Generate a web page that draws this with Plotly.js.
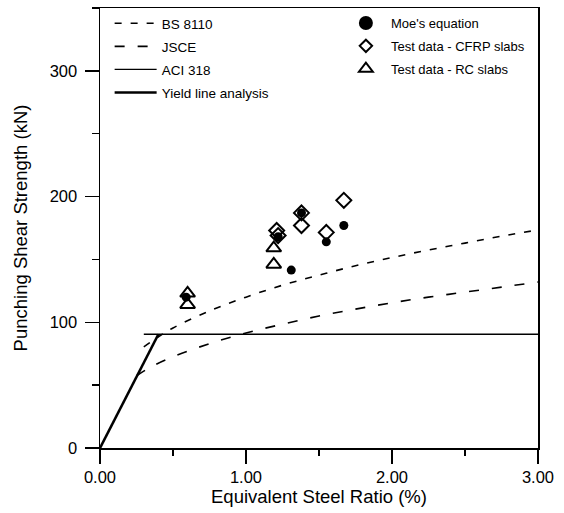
<!DOCTYPE html>
<html>
<head>
<meta charset="utf-8">
<script src="https://cdn.plot.ly/plotly-3.0.1.min.js"></script>
<style>html,body{margin:0;padding:0;background:#fff;}#chart{width:564px;height:513px;}</style>
</head>
<body>
<div id="chart"></div>
<script>
// Design code curves
const bsX   = [0.30, 0.40, 0.50, 0.75, 1.00, 1.25, 1.50, 1.75, 2.00, 2.25, 2.50, 2.75, 3.00];
const bsY   = [80.5, 88.5, 95.5, 109, 120, 129.5, 137.5, 145, 151.5, 157.5, 163, 168.5, 173.5];
const jsceX = [0.25, 0.35, 0.50, 0.75, 1.00, 1.25, 1.50, 1.75, 2.00, 2.25, 2.50, 2.75, 3.00];
const jsceY = [57.5, 64.5, 72.5, 83, 91.5, 98.5, 105, 110.5, 115.5, 120, 124, 128, 132];
const aciX  = [0.30, 3.00];
const aciY  = [90.5, 90.5];
const yieldX = [0.00, 0.40];
const yieldY = [0, 90.5];

// Point data
const moeX  = [0.59, 1.22, 1.31, 1.38, 1.55, 1.67];
const moeY  = [120, 168, 141.5, 187, 164, 177];
const cfrpX = [1.21, 1.22, 1.38, 1.38, 1.55, 1.67];
const cfrpY = [173, 169, 187, 177, 171.5, 197];
const rcX   = [0.60, 0.60, 1.19, 1.19];
const rcY   = [123, 114, 159, 146];

const font = 'Arial, "Liberation Sans", sans-serif';

const moeMarker  = {symbol: 'circle', size: 9, color: 'black'};
const cfrpMarker = {symbol: 'diamond-open', size: 11.5, color: 'black', line: {width: 2, color: 'black'}};
const rcMarker   = {symbol: 'triangle-up-open', size: 13, color: 'black', line: {width: 2, color: 'black'}};

const traces = [
  {x: bsX, y: bsY, mode: 'lines', name: 'BS 8110', legend: 'legend', legendgroup: 'a',
   line: {color: 'black', width: 1.6, dash: '7px,9px', shape: 'spline'}},
  {x: jsceX, y: jsceY, mode: 'lines', name: 'JSCE', legend: 'legend', legendgroup: 'b',
   line: {color: 'black', width: 1.6, dash: '10px,13px', shape: 'spline'}},
  {x: aciX, y: aciY, mode: 'lines', name: 'ACI 318', legend: 'legend', legendgroup: 'c',
   line: {color: 'black', width: 1.4}},
  {x: yieldX, y: yieldY, mode: 'lines', name: 'Yield line analysis', legend: 'legend', legendgroup: 'd',
   line: {color: 'black', width: 2.6}},
  {x: moeX, y: moeY, mode: 'markers', name: "Moe's equation", legendgroup: 'e', showlegend: false,
   marker: moeMarker},
  {x: cfrpX, y: cfrpY, mode: 'markers', name: 'Test data - CFRP slabs', legendgroup: 'f', showlegend: false,
   marker: cfrpMarker},
  {x: rcX, y: rcY, mode: 'markers', name: 'Test data - RC slabs', legendgroup: 'g', showlegend: false,
   marker: rcMarker},
  // legend keys for the point series (sized like the reference key)
  {x: [null], y: [null], mode: 'markers', name: "Moe's equation", legend: 'legend2', legendgroup: 'e',
   marker: {symbol: 'circle', size: 14, color: 'black'}},
  {x: [null], y: [null], mode: 'markers', name: 'Test data - CFRP slabs', legend: 'legend2', legendgroup: 'f',
   marker: {symbol: 'diamond-open', size: 9.5, color: 'black', line: {width: 2, color: 'black'}}},
  {x: [null], y: [null], mode: 'markers', name: 'Test data - RC slabs', legend: 'legend2', legendgroup: 'g',
   marker: {symbol: 'triangle-up-open', size: 12, color: 'black', line: {width: 2, color: 'black'}}}
];

const layout = {
  width: 564, height: 513,
  margin: {l: 100, r: 26, t: 8, b: 65},
  paper_bgcolor: 'white', plot_bgcolor: 'white',
  font: {family: font, color: 'black', size: 16},
  showlegend: true,
  xaxis: {
    range: [0, 3], dtick: 1, tick0: 0, tickformat: '.2f',
    showline: true, linecolor: 'black', linewidth: 1.5, mirror: true,
    ticks: 'outside', ticklen: 14, tickwidth: 1.5, tickcolor: 'black',
    showgrid: false, zeroline: false,
    minor: {dtick: 0.5, ticks: 'outside', ticklen: 6, tickwidth: 1.5, tickcolor: 'black', showgrid: false},
    tickfont: {size: 16.5, family: font},
    title: {text: 'Equivalent Steel Ratio (%)', font: {size: 18.5, family: font}, standoff: 0}
  },
  yaxis: {
    range: [0, 350], dtick: 100, tick0: 0,
    showline: true, linecolor: 'black', linewidth: 1.5, mirror: true,
    ticks: 'outside', ticklen: 14, tickwidth: 1.5, tickcolor: 'black',
    ticklabelstandoff: 4,
    showgrid: false, zeroline: false,
    minor: {dtick: 50, ticks: 'outside', ticklen: 7, tickwidth: 1.5, tickcolor: 'black', showgrid: false},
    tickfont: {size: 16.5, family: font},
    title: {text: 'Punching Shear Strength (kN)', font: {size: 18.5, family: font}, standoff: 17}
  },
  legend: {
    x: 0.022, y: 1.0, xanchor: 'left', yanchor: 'top',
    bgcolor: 'rgba(0,0,0,0)', borderwidth: 0,
    font: {size: 13.5, family: font}, itemwidth: 42, tracegroupgap: 2.5,
    traceorder: 'grouped'
  },
  legend2: {
    x: 0.55, y: 1.0, xanchor: 'left', yanchor: 'top',
    bgcolor: 'rgba(0,0,0,0)', borderwidth: 0,
    font: {size: 13, family: font}, itemwidth: 40, tracegroupgap: 3,
    traceorder: 'grouped'
  }
};

Plotly.newPlot('chart', traces, layout, {staticPlot: true, displayModeBar: false});
</script>
</body>
</html>
